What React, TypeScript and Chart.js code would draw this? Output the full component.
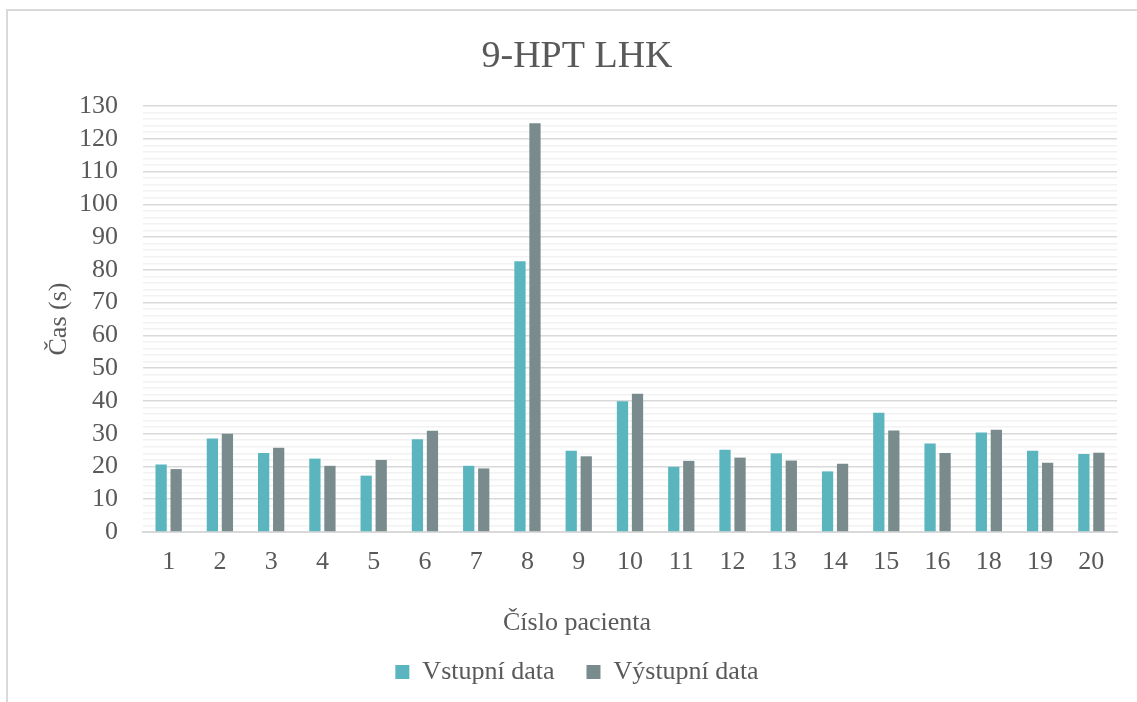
import React, { useEffect, useRef } from "react";
import { Chart, registerables } from "chart.js";

Chart.register(...registerables);

const categories = ["1", "2", "3", "4", "5", "6", "7", "8", "9", "10", "11", "12", "13", "14", "15", "16", "18", "19", "20"];
const vstupniData = [20.6, 28.5, 24.1, 22.4, 17.2, 28.3, 20.2, 82.6, 24.8, 39.9, 19.9, 25.1, 24.0, 18.5, 36.4, 27.0, 30.4, 24.8, 23.8];
const vystupniData = [19.2, 30.0, 25.7, 20.2, 22.0, 30.9, 19.4, 124.7, 23.1, 42.2, 21.7, 22.7, 21.8, 20.8, 31.0, 24.1, 31.2, 21.1, 24.2];

const FONT = "'Liberation Serif', 'Times New Roman', serif";
const TEXT = "#595959";

export default function App() {
  const ref = useRef<HTMLCanvasElement | null>(null);

  useEffect(() => {
    if (!ref.current) return;
    const chart = new Chart(ref.current, {
      type: "bar",
      data: {
        labels: categories,
        datasets: [
          {
            label: "Vstupní data",
            data: vstupniData,
            backgroundColor: "#5ab5bf",
            categoryPercentage: 0.586,
            barPercentage: 0.75,
          },
          {
            label: "Výstupní data",
            data: vystupniData,
            backgroundColor: "#7a8b8d",
            categoryPercentage: 0.586,
            barPercentage: 0.75,
          },
        ],
      },
      options: {
        animation: false,
        responsive: false,
        maintainAspectRatio: false,
        layout: { padding: { left: 37, right: 20, top: 0, bottom: 7 } },
        font: { family: FONT },
        plugins: {
          title: {
            display: true,
            text: "9-HPT LHK",
            color: TEXT,
            font: { family: FONT, size: 38, weight: "normal" },
            padding: { top: 34, bottom: 26.4 },
          },
          legend: {
            position: "bottom",
            title: {
              display: true,
              text: "Číslo pacienta",
              color: TEXT,
              font: { family: FONT, size: 26 },
              padding: { top: 16.8, bottom: -14.2 },
            },
            labels: {
              color: TEXT,
              font: { family: FONT, size: 26 },
              boxWidth: 14,
              boxHeight: 14,
              padding: 32,
            },
          },
          tooltip: { enabled: false },
        },
        scales: {
          x: {
            grid: { display: false, drawTicks: false },
            border: { display: true, color: "#d9d9d9", width: 2 },
            ticks: {
              color: TEXT,
              font: { family: FONT, size: 26 },
              padding: 15,
              maxRotation: 0,
              autoSkip: false,
            },
          },
          y: {
            min: 0,
            max: 130,
            border: { display: false },
            grid: {
              drawTicks: false,
              color: (ctx: any) => (ctx.tick && ctx.tick.value % 10 === 0 ? "#d9d9d9" : "#f2f2f2"),
              lineWidth: 1.5,
            },
            ticks: {
              stepSize: 2,
              autoSkip: false,
              color: TEXT,
              font: { family: FONT, size: 26 },
              padding: 25,
              callback: (v: any) => (Number(v) % 10 === 0 ? String(v) : ""),
            },
            title: {
              display: true,
              text: "Čas (s)",
              color: TEXT,
              font: { family: FONT, size: 26 },
              padding: { top: 6.4, bottom: -20.6 },
            },
          },
        },
      },
    });
    return () => chart.destroy();
  }, []);

  return (
    <div
      style={{
        position: "fixed",
        left: 0,
        top: 0,
        width: 1137,
        height: 702,
        overflow: "hidden",
        background: "#ffffff",
      }}
    >
      <div
        style={{
          position: "absolute",
          left: 6,
          top: 9,
          width: 2000,
          height: 2000,
          borderLeft: "2px solid #d9d9d9",
          borderTop: "2px solid #d9d9d9",
        }}
      />
      <canvas ref={ref} width={1137} height={702} style={{ position: "absolute", left: 0, top: 0 }} />
    </div>
  );
}
